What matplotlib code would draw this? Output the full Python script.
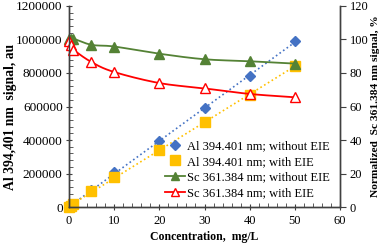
import numpy as np
import matplotlib
matplotlib.use("Agg")
import matplotlib.pyplot as plt
from matplotlib.ticker import MultipleLocator, FormatStrFormatter

plt.rcParams['font.family'] = ['Liberation Serif', 'DejaVu Serif']

# Al 394.401 nm signal, au
al_x = [0, 0.5, 1, 5, 10, 20, 30, 40, 50]
al_no_eie = [0, 10000, 20000, 100000, 207000, 392000, 590000, 780000, 990000]
al_eie = [0, 8500, 17000, 97000, 181000, 340000, 506000, 666000, 844000]

# Sc 361.384 nm normalized signal, %
sc_x = [0, 0.5, 1, 5, 10, 20, 30, 40, 50]
sc_no_eie = [100, 100.5, 100.5, 96.8, 95.8, 91.5, 88.2, 87, 85.6]
sc_eie = [99, 97, 94, 86.5, 80.6, 74, 70.8, 67.5, 65.5]

labels = ["Al 394.401 nm; without EIE", "Al 394.401 nm; with EIE",
          "Sc 361.384 nm; without EIE", "Sc 361.384 nm; with EIE"]


def smooth(x, y, n=20):
    # catmull-rom style smoothed line, like a spreadsheet "smoothed line"
    x = np.asarray(x, float); y = np.asarray(y, float)
    px = np.concatenate([[2*x[0]-x[1]], x, [2*x[-1]-x[-2]]])
    py = np.concatenate([[2*y[0]-y[1]], y, [2*y[-1]-y[-2]]])
    xs, ys = [], []
    t = np.linspace(0, 1, n)
    for i in range(1, len(px)-2):
        for p, out in ((px, xs), (py, ys)):
            p0, p1, p2, p3 = p[i-1], p[i], p[i+1], p[i+2]
            out.extend(0.5*((2*p1) + (-p0+p2)*t + (2*p0-5*p1+4*p2-p3)*t**2
                            + (-p0+3*p1-3*p2+p3)*t**3))
    return xs, ys


fig = plt.figure(figsize=(3.87, 2.48), dpi=100)
ax = fig.add_axes([0.178, 0.165, 0.701, 0.811])
ax2 = ax.twinx()

blue = '#4472C4'
yellow = '#FFC000'
green = '#548235'
red = '#FF0000'

k1 = np.polyfit(al_x, al_no_eie, 1)
k2 = np.polyfit(al_x, al_eie, 1)
fx = np.array([0, 50])
ax.plot(fx, np.polyval(k1, fx), ':', color=blue, lw=1.2)
ax.plot(fx, np.polyval(k2, fx), ':', color=yellow, lw=1.2)
h1, = ax.plot(al_x, al_no_eie, 'D', color=blue, ms=5.5, ls='none', clip_on=False)
h2, = ax.plot(al_x, al_eie, 's', color=yellow, ms=7, ls='none', clip_on=False)

sx, sy = smooth(sc_x, sc_no_eie)
ax2.plot(sx, sy, '-', color=green, lw=1.3, clip_on=False)
ax2.plot(sc_x, sc_no_eie, '^', color=green, ms=7.5, ls='none', clip_on=False)
sx, sy = smooth(sc_x, sc_eie)
ax2.plot(sx, sy, '-', color=red, lw=1.3, clip_on=False)
ax2.plot(sc_x, sc_eie, '^', mfc='white', mec=red, mew=1, ms=7.5, ls='none', clip_on=False)
h3, = ax2.plot([], [], '-^', color=green, ms=6, lw=1.3)
h4, = ax2.plot([], [], '-^', color=red, mfc='white', mec=red, ms=6, lw=1.3)

ax.set_xlim(0, 60)
ax.set_ylim(0, 1200000)
ax2.set_ylim(0, 120)
ax.xaxis.set_major_locator(MultipleLocator(10))
ax.xaxis.set_minor_locator(MultipleLocator(2))
ax.yaxis.set_major_locator(MultipleLocator(200000))
ax.yaxis.set_minor_locator(MultipleLocator(40000))
ax.yaxis.set_major_formatter(FormatStrFormatter('%d'))
ax2.yaxis.set_major_locator(MultipleLocator(20))

for a in (ax, ax2):
    a.spines['top'].set_visible(False)
    for s in a.spines.values():
        s.set_color('#404040')
        s.set_linewidth(1)

ax.tick_params(axis='x', which='major', direction='inout', length=5, labelsize=9, pad=3, color='#404040')
ax.tick_params(axis='x', which='minor', direction='in', length=3, color='#404040')
ax.tick_params(axis='y', which='major', direction='inout', length=5, labelsize=9.5, pad=2, color='#404040')
ax.tick_params(axis='y', which='minor', direction='in', length=3, color='#404040')
ax2.tick_params(axis='y', which='major', direction='out', length=4, labelsize=9, pad=3, color='#404040')

ax.set_xlabel('Concentration,  mg/L', fontsize=8.5, fontweight='bold', labelpad=3)
ax.set_ylabel('Al 394,401 nm  signal, au', fontsize=9.8, fontweight='bold', labelpad=1)
ax.yaxis.set_label_coords(-0.19, 0.45)
ax2.set_ylabel('Normalized  Sc 361.384 nm signal, %', fontsize=8.2, fontweight='bold', labelpad=2)

ax2.legend([h1, h2, h3, h4], labels, loc='lower right', bbox_to_anchor=(0.995, -0.005),
           frameon=False, fontsize=9, handlelength=1.6, handletextpad=0.15,
           labelspacing=0.3, borderpad=0.2)

fig.savefig('out.png', dpi=100)
